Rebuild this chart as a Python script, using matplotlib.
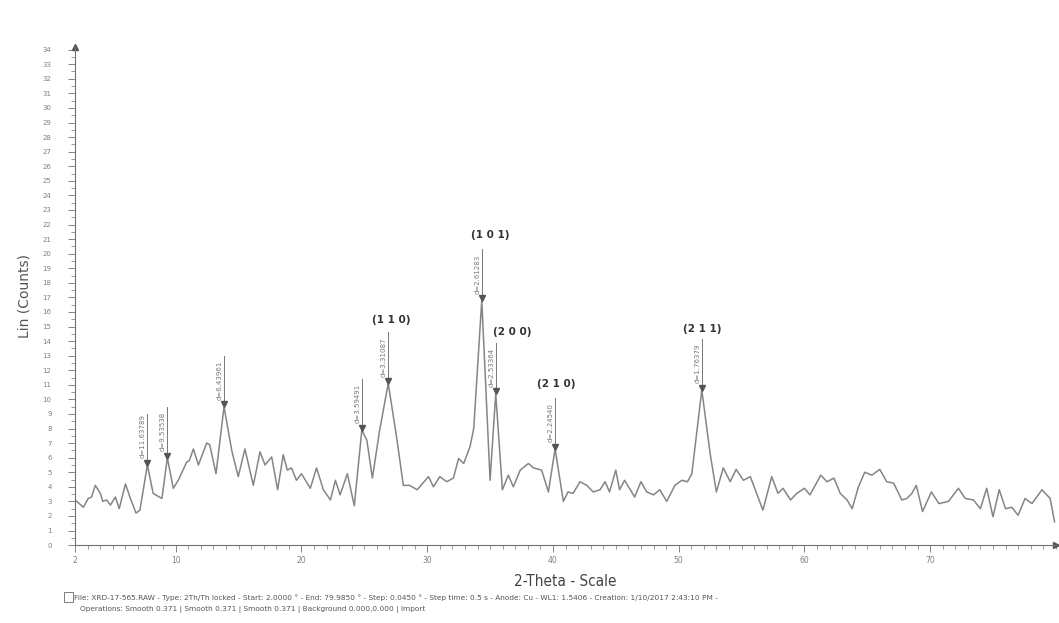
import numpy as np
import matplotlib.pyplot as plt
from matplotlib.ticker import MultipleLocator
from matplotlib.patches import Rectangle

# 2-theta (deg) and counts
two_theta = [2.0, 2.65, 3.04, 3.3, 3.6, 4.0, 4.2, 4.5, 4.8, 5.2, 5.5, 6.0, 6.35, 6.84,
             7.15, 7.74, 8.2, 8.9, 9.33, 9.8, 10.2, 10.87, 11.08, 11.4, 11.8, 12.46,
             12.7, 13.2, 13.84, 14.45, 14.97, 15.5, 16.17, 16.7, 17.1, 17.63, 18.1,
             18.55, 18.87, 19.2, 19.6, 20.0, 20.7, 21.2, 21.74, 22.3, 22.7, 23.07,
             23.65, 24.2, 24.8, 25.2, 25.64, 26.2, 26.9, 27.6, 28.1, 28.6, 29.2,
             30.1, 30.5, 31.0, 31.55, 32.08, 32.5, 32.9, 33.4, 33.7, 34.34, 35.0,
             35.45, 35.98, 36.45, 36.85, 37.4, 38.05, 38.45, 39.1, 39.64, 40.17,
             40.83, 41.2, 41.6, 42.16, 42.7, 43.2, 43.75, 44.15, 44.5, 45.0, 45.3,
             45.7, 46.5, 47.0, 47.46, 48.0, 48.5, 49.05, 49.7, 50.25, 50.7, 51.05,
             51.84, 52.5, 53.0, 53.55, 54.1, 54.57, 55.15, 55.7, 56.7, 57.4, 57.9,
             58.3, 58.9, 59.4, 60.0, 60.45, 61.3, 61.8, 62.35, 62.85, 63.4, 63.8,
             64.3, 64.8, 65.36, 66.0, 66.55, 67.1, 67.75, 68.15, 68.55, 68.9, 69.4,
             70.1, 70.7, 71.46, 72.25, 72.8, 73.45, 74.0, 74.5, 75.0, 75.5, 76.0,
             76.5, 77.0, 77.55, 78.1, 78.9, 79.55, 79.9]
counts = [3.1, 2.6, 3.2, 3.3, 4.1, 3.55, 3.0, 3.1, 2.75, 3.3, 2.5, 4.2, 3.3, 2.2,
          2.4, 5.5, 3.55, 3.2, 6.0, 3.9, 4.45, 5.7, 5.8, 6.6, 5.5, 7.0,
          6.9, 4.9, 9.5, 6.5, 4.7, 6.6, 4.1, 6.4, 5.5, 6.05, 3.8,
          6.2, 5.15, 5.3, 4.45, 4.9, 3.9, 5.3, 3.8, 3.1, 4.45, 3.45,
          4.9, 2.7, 7.9, 7.2, 4.6, 7.8, 11.1, 7.2, 4.1, 4.1, 3.8,
          4.7, 4.0, 4.7, 4.35, 4.6, 5.95, 5.6, 6.75, 8.0, 16.8, 4.45,
          10.4, 3.8, 4.8, 4.0, 5.15, 5.6, 5.3, 5.15, 3.65, 6.6,
          3.0, 3.65, 3.55, 4.35, 4.1, 3.65, 3.8, 4.35, 3.65, 5.15, 3.8,
          4.45, 3.3, 4.35, 3.65, 3.45, 3.8, 3.0, 4.1, 4.45, 4.35, 4.9,
          10.65, 6.3, 3.65, 5.3, 4.35, 5.2, 4.45, 4.7, 2.4, 4.7, 3.55,
          3.9, 3.1, 3.55, 3.9, 3.45, 4.8, 4.35, 4.6, 3.55, 3.1, 2.5,
          4.0, 5.0, 4.8, 5.2, 4.35, 4.25, 3.1, 3.2, 3.55, 4.1, 2.3,
          3.65, 2.85, 3.0, 3.9, 3.2, 3.1, 2.5, 3.9, 1.95, 3.8, 2.5,
          2.6, 2.05, 3.2, 2.85, 3.8, 3.2, 1.6]

# labelled peaks
peak_x = [7.74, 9.33, 13.84, 24.8, 26.9, 34.34, 35.45, 40.17, 51.84]
peak_y = [5.5, 6.0, 9.5, 7.9, 11.1, 16.8, 10.4, 6.6, 10.65]
peak_d = ['d=11.63789', 'd=9.53538', 'd=6.43961', 'd=3.59491', 'd=3.31087',
          'd=2.61283', 'd=2.53364', 'd=2.24540', 'd=1.76379']

# Miller indices
hkl_text = ['(1 0 1)', '(1 1 0)', '(2 0 0)', '(2 1 0)', '(2 1 1)']
hkl_x = [35.0, 27.1, 36.8, 40.3, 51.9]
hkl_y = [21.3, 15.45, 14.6, 11.05, 14.8]

axcol = '#707070'

fig = plt.figure(figsize=(10.59, 6.23), dpi=100)
ax = fig.add_axes([0.071, 0.125, 0.926, 0.8])

ax.plot(two_theta, counts, color='#858585', lw=1.1)

for x, y, d in zip(peak_x, peak_y, peak_d):
    ax.plot([x, x], [y + 0.2, y + 3.5], color='#777777', lw=0.7)
    ax.plot(x, y + 0.15, marker='v', ms=4, color='#555555', ls='none')
    ax.text(x - 0.12, y + 0.45, d, rotation=90, ha='right', va='bottom',
            fontsize=5, color='#777777')

for t, x, y in zip(hkl_text, hkl_x, hkl_y):
    ax.text(x, y, t, ha='center', va='center', fontsize=7.5, fontweight='bold',
            color='#333333')

ax.set_xlim(2, 80)
ax.set_ylim(0, 34.2)
ax.set_xticks([2, 10, 20, 30, 40, 50, 60, 70])
ax.xaxis.set_minor_locator(MultipleLocator(1))
ax.set_yticks(range(0, 35))
ax.yaxis.set_minor_locator(MultipleLocator(0.5))
ax.tick_params(axis='both', which='major', labelsize=5, colors=axcol, length=5, width=0.6,
               labelcolor='#808080')
ax.tick_params(axis='x', which='major', labelsize=5.5, pad=3)
ax.tick_params(axis='both', which='minor', colors=axcol, length=3, width=0.5)
ax.tick_params(axis='y', pad=12)

for s in ['top', 'right']:
    ax.spines[s].set_visible(False)
for s in ['left', 'bottom']:
    ax.spines[s].set_color(axcol)
    ax.spines[s].set_linewidth(0.8)

# axis arrows
ax.plot(0, 1.0, marker='^', ms=4, color='#555555', transform=ax.transAxes, clip_on=False)
ax.plot(1.0, 0, marker='>', ms=4, color='#555555', transform=ax.transAxes, clip_on=False)

ax.set_ylabel('Lin (Counts)', fontsize=10, color='#555555', labelpad=8)
ax.set_xlabel('2-Theta - Scale', fontsize=11, color='#444444', labelpad=6,
              fontstretch='condensed')

# footer
fig.patches.append(Rectangle((0.060, 0.034), 0.009, 0.015, transform=fig.transFigure,
                             fill=False, ec='#666666', lw=0.6))
fig.text(0.070, 0.040, 'File: XRD-17-565.RAW - Type: 2Th/Th locked - Start: 2.0000 \u00b0 - End: 79.9850 \u00b0 - '
         'Step: 0.0450 \u00b0 - Step time: 0.5 s - Anode: Cu - WL1: 1.5406 - Creation: 1/10/2017 2:43:10 PM -',
         fontsize=5.3, color='#555555', va='center')
fig.text(0.076, 0.022, 'Operations: Smooth 0.371 | Smooth 0.371 | Smooth 0.371 | Background 0.000,0.000 | Import',
         fontsize=5.3, color='#555555', va='center')

fig.savefig('out.png', dpi=100, facecolor='white')
